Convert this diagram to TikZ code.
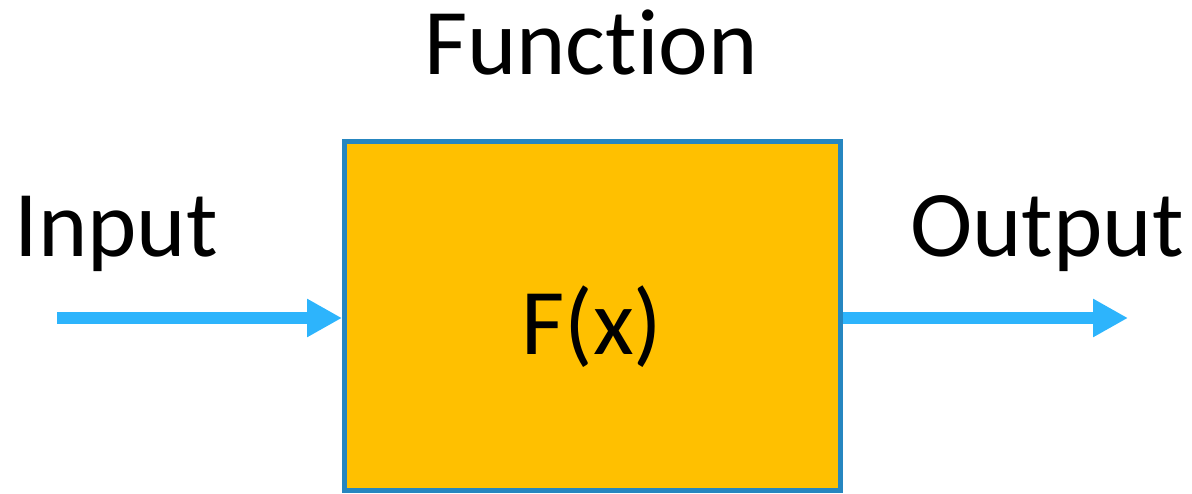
\documentclass[tikz,border=0pt]{standalone}
\usepackage{fontspec}
\setmainfont[Ligatures=NoCommon]{Carlito}
\usetikzlibrary{arrows.meta}
\definecolor{boxfill}{RGB}{255,192,0}
\definecolor{boxline}{RGB}{38,134,192}
\definecolor{arrowblue}{RGB}{45,180,252}
\begin{document}
\begin{tikzpicture}[x=1pt,y=1pt,
  lbl/.style={font=\fontsize{94}{100}\selectfont, anchor=base, inner sep=0pt},
  flow/.style={draw=arrowblue, line width=12pt, -{Triangle[length=35pt,width=36pt]}}]
\useasboundingbox (0,0) rectangle (1192,493);
\node[draw=boxline, fill=boxfill, line width=5pt, minimum width=496pt, minimum height=349pt, inner sep=0pt] (box) at (592.5,177) {};
\node[lbl] (fx) at (592,138) {F(x)};
\node[lbl] (func) at (591,418) {Function};
\node[lbl] (inp) at (116,236) {Input};
\node[lbl] (outp) at (1047,236) {Output};
\coordinate (a) at (57,175);
\coordinate (b) at (1128,175);
\draw[flow] (a) -- (a -| box.west);
\draw[flow] (b -| box.east) -- (b);
\end{tikzpicture}
\end{document}
